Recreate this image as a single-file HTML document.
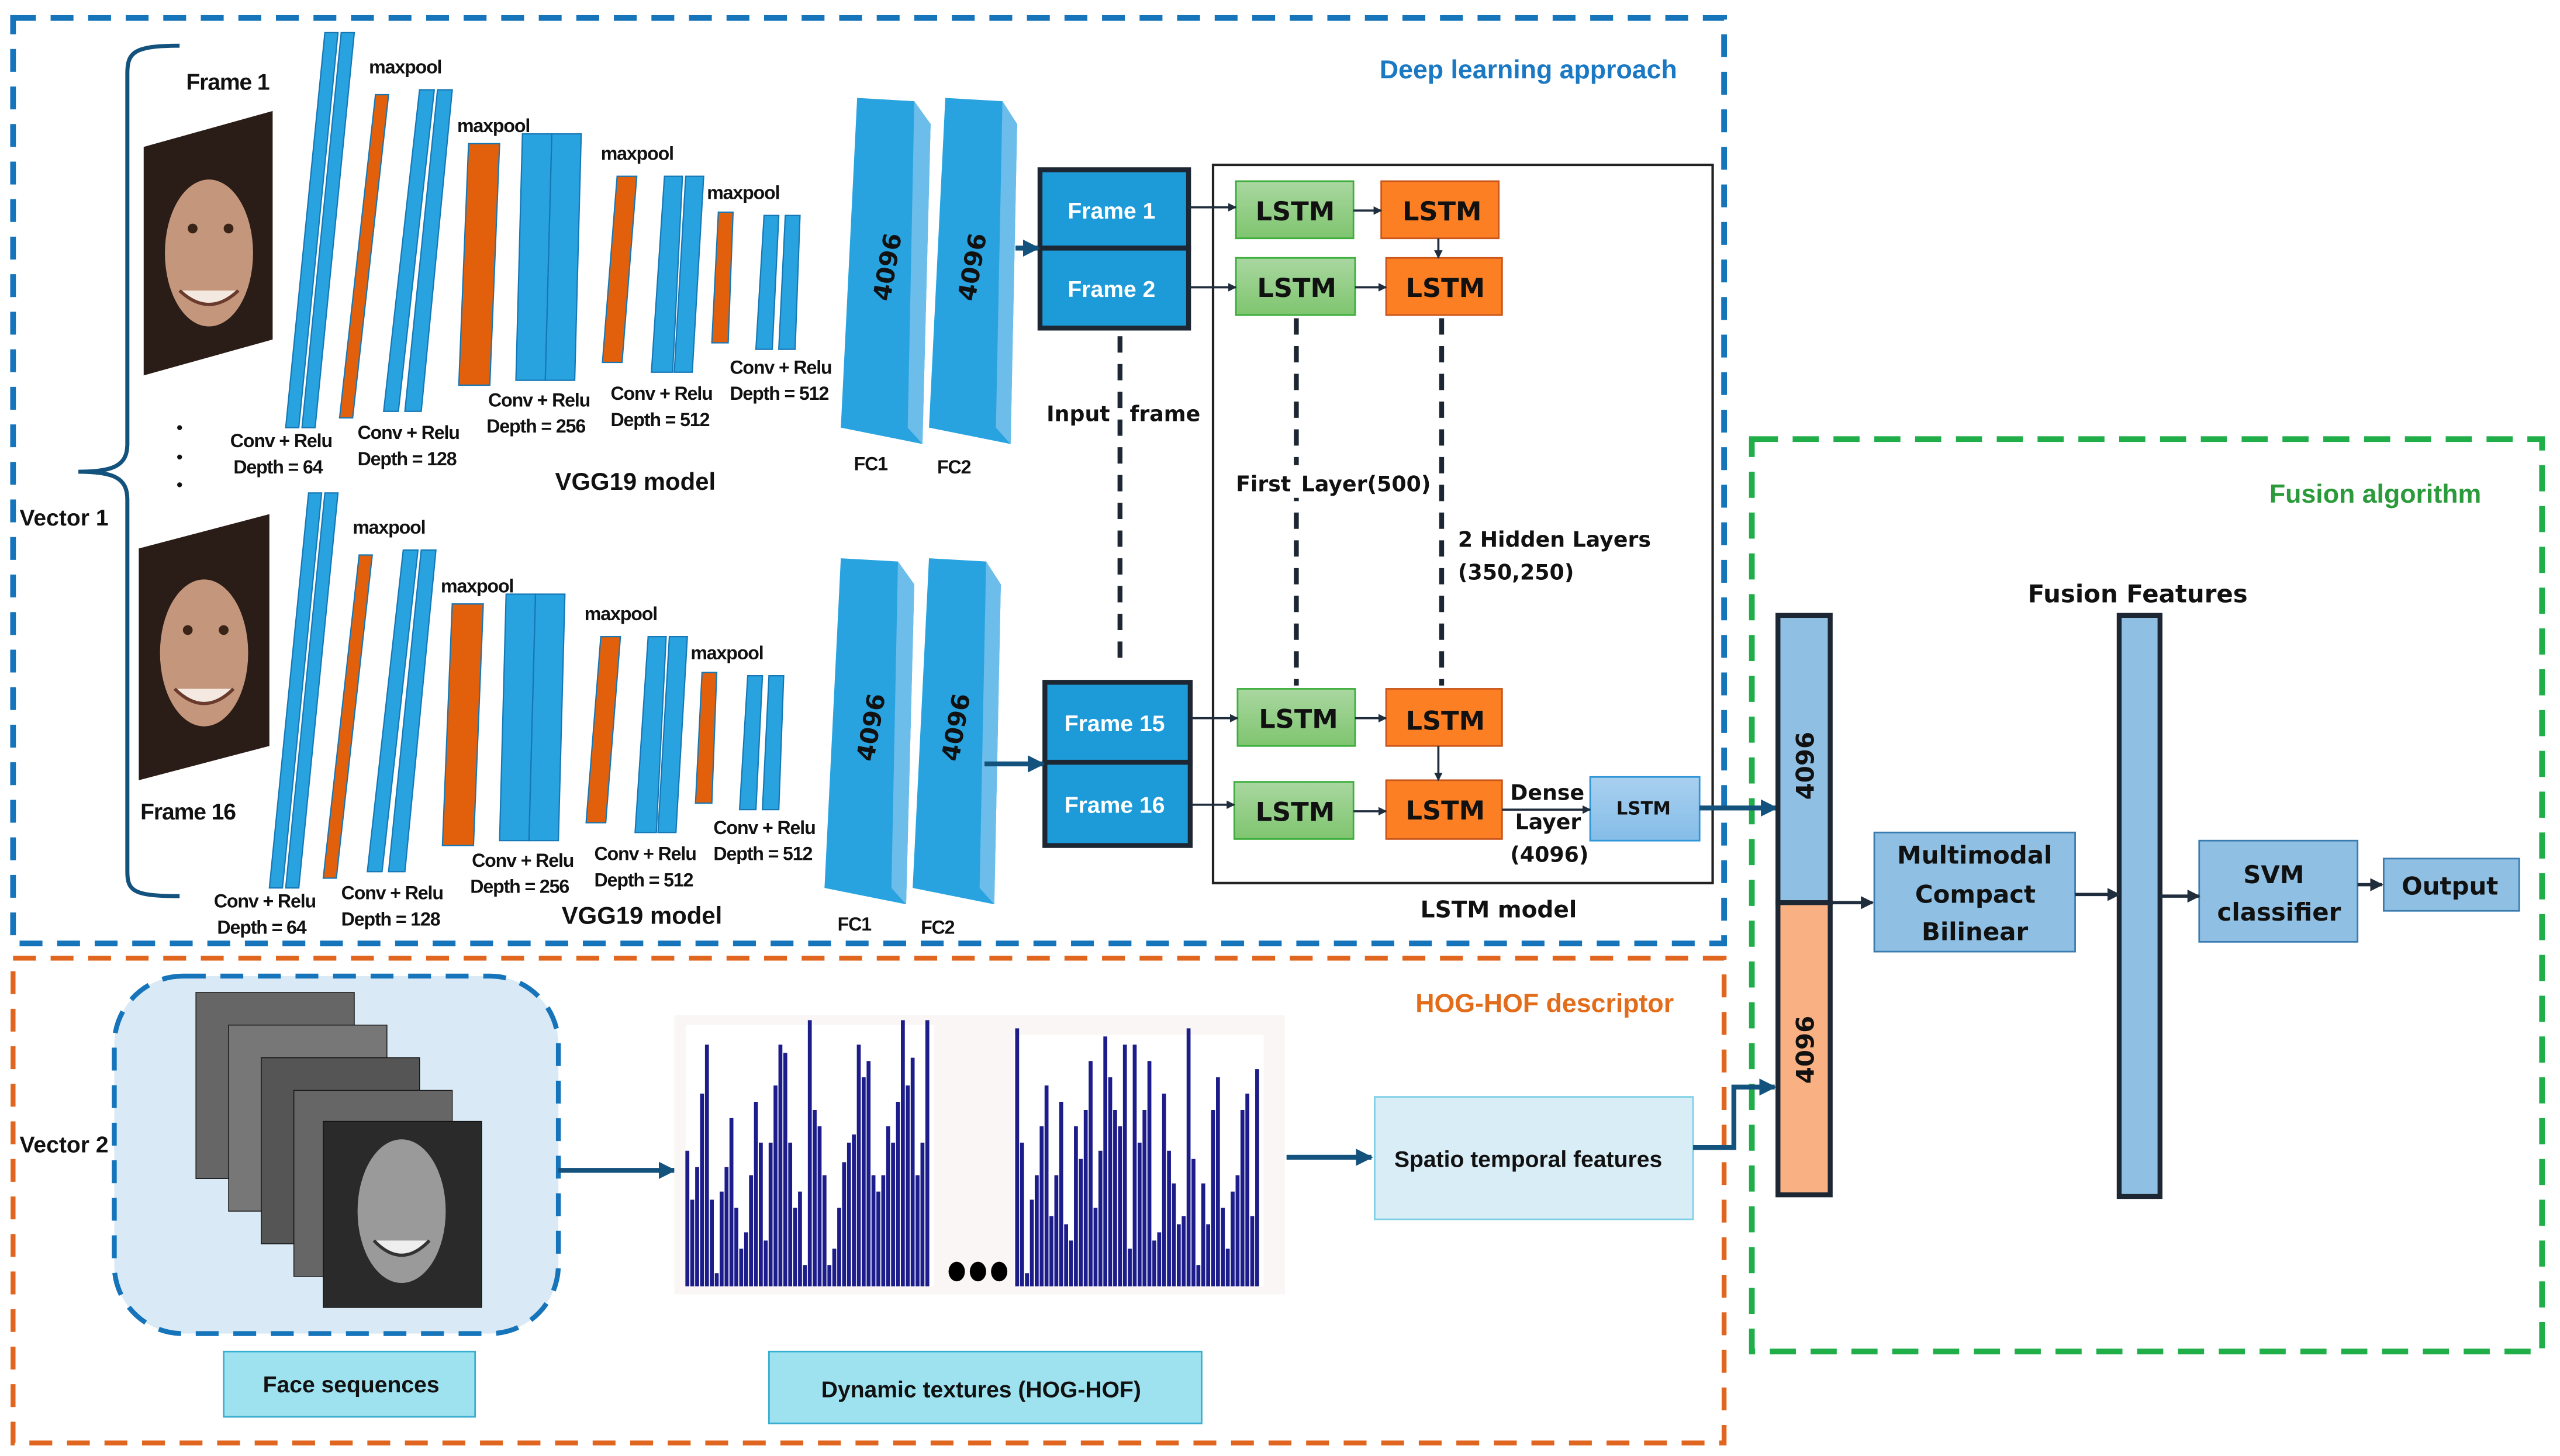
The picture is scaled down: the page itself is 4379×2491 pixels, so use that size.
<!DOCTYPE html>
<html><head><meta charset="utf-8"><style>
html,body{margin:0;padding:0;background:#fff;}
svg{display:block}
.n{font-family:"Liberation Sans Narrow","Liberation Sans",sans-serif;font-weight:bold;font-size:11.5px;letter-spacing:-0.4px;fill:#111}
.v{font-family:"DejaVu Sans","Liberation Sans",sans-serif;font-weight:bold;fill:#111}
</style></head><body>
<svg width="4379" height="2491" viewBox="0 0 1568 892" preserveAspectRatio="none" xmlns="http://www.w3.org/2000/svg">
<defs>
<marker id="a" viewBox="0 0 10 10" refX="9" refY="5" markerWidth="4" markerHeight="4" orient="auto"><path d="M0,0L10,5L0,10z" fill="#1f2d3d"/></marker>
<marker id="b" viewBox="0 0 10 10" refX="9" refY="5" markerWidth="3.5" markerHeight="3.5" orient="auto"><path d="M0,0L10,5L0,10z" fill="#14527e"/></marker>
<linearGradient id="g" x1="0" y1="0" x2="0" y2="1"><stop offset="0" stop-color="#a9d7a0"/><stop offset="1" stop-color="#7fc56f"/></linearGradient>
<linearGradient id="lb" x1="0" y1="0" x2="0" y2="1"><stop offset="0" stop-color="#a9d0ef"/><stop offset="1" stop-color="#84bde8"/></linearGradient>
<g id="vgg">
 <polygon points="199,20 207,20 183,262 175,262" fill="#29a3e0" stroke="#1677b5" stroke-width="0.8"/>
 <polygon points="209,20 217,20 193,262 185,262" fill="#29a3e0" stroke="#1677b5" stroke-width="0.8"/>
 <polygon points="230,58 238,58 216,256 208,256" fill="#e2600c" stroke="#1677b5" stroke-width="0.8"/>
 <polygon points="257,55 266,55 244,252 235,252" fill="#29a3e0" stroke="#1677b5" stroke-width="0.8"/>
 <polygon points="268,55 277,55 258,252 248,252" fill="#29a3e0" stroke="#1677b5" stroke-width="0.8"/>
 <polygon points="287,88 306,88 300,236 281,236" fill="#e2600c" stroke="#1677b5" stroke-width="0.8"/>
 <polygon points="320,82 338,82 334,233 316,233" fill="#29a3e0" stroke="#1677b5" stroke-width="0.8"/>
 <polygon points="338,82 356,82 352,233 334,233" fill="#29a3e0" stroke="#1677b5" stroke-width="0.8"/>
 <polygon points="378,108 390,108 381,222 369,222" fill="#e2600c" stroke="#1677b5" stroke-width="0.8"/>
 <polygon points="407,108 418,108 412,228 399,228" fill="#29a3e0" stroke="#1677b5" stroke-width="0.8"/>
 <polygon points="420,108 431,108 424,228 413,228" fill="#29a3e0" stroke="#1677b5" stroke-width="0.8"/>
 <polygon points="440,130 449,130 446,210 436,210" fill="#e2600c" stroke="#1677b5" stroke-width="0.8"/>
 <polygon points="468,132 477,132 473,214 463,214" fill="#29a3e0" stroke="#1677b5" stroke-width="0.8"/>
 <polygon points="481,132 490,132 487,214 477,214" fill="#29a3e0" stroke="#1677b5" stroke-width="0.8"/>
 <polygon points="525,60 560,62 570,76 565,272 515,262" fill="#29a3e0"/>
 <polygon points="560,62 570,76 565,272 556,262" fill="#6cbdea"/>
 <polygon points="579,60 614,62 623,76 619,272 569,262" fill="#29a3e0"/>
 <polygon points="614,62 623,76 619,272 610,262" fill="#6cbdea"/>
 <text class="v" font-size="15" transform="translate(545,185) rotate(-80)">4096</text>
 <text class="v" font-size="15" transform="translate(597,185) rotate(-80)">4096</text>
 <text class="n" x="226" y="45">maxpool</text>
 <text class="n" x="280" y="81">maxpool</text>
 <text class="n" x="368" y="98">maxpool</text>
 <text class="n" x="433" y="122">maxpool</text>
 <text class="n" x="141" y="274">Conv + Relu</text><text class="n" x="143" y="290">Depth = 64</text>
 <text class="n" x="219" y="269">Conv + Relu</text><text class="n" x="219" y="285">Depth = 128</text>
 <text class="n" x="299" y="249">Conv + Relu</text><text class="n" x="298" y="265">Depth = 256</text>
 <text class="n" x="374" y="245">Conv + Relu</text><text class="n" x="374" y="261">Depth = 512</text>
 <text class="n" x="447" y="229">Conv + Relu</text><text class="n" x="447" y="245">Depth = 512</text>
 <text class="n" x="523" y="288">FC1</text><text class="n" x="574" y="290">FC2</text>
</g>
</defs>

<rect x="8" y="11" width="1048" height="567" fill="none" stroke="#1674bb" stroke-width="3.5" stroke-dasharray="14,9"/>
<rect x="8" y="587" width="1048" height="297" fill="none" stroke="#e0661f" stroke-width="3" stroke-dasharray="14,9"/>
<rect x="1073" y="269" width="484" height="559" fill="none" stroke="#1fae48" stroke-width="3.5" stroke-dasharray="16,9"/>
<text x="845" y="48" font-family="Liberation Sans" font-weight="bold" font-size="16" fill="#1b79c4">Deep learning approach</text>
<text x="867" y="620" font-family="Liberation Sans" font-weight="bold" font-size="16" fill="#e36c1a">HOG-HOF descriptor</text>
<text x="1390" y="308" font-family="Liberation Sans" font-weight="bold" font-size="16" fill="#2a9a3a">Fusion algorithm</text>

<path d="M110,28 C82,28 78,32 78,45 L78,272 C78,285 70,289 48,289 C70,289 78,293 78,306 L78,534 C78,546 82,549 110,549" fill="none" stroke="#14527e" stroke-width="2.5"/>
<text x="12" y="322" font-family="Liberation Sans" font-weight="bold" font-size="14" fill="#111">Vector 1</text>
<text x="12" y="706" font-family="Liberation Sans" font-weight="bold" font-size="14" fill="#111">Vector 2</text>
<text class="n" x="114" y="55" style="font-size:14px">Frame 1</text>
<text class="n" x="86" y="502" style="font-size:14px">Frame 16</text>
<circle cx="110" cy="262" r="1.5" fill="#111"/><circle cx="110" cy="280" r="1.5" fill="#111"/><circle cx="110" cy="297" r="1.5" fill="#111"/>

<g>
 <polygon points="88,90 167,68 167,208 88,230" fill="#2a1c17"/>
 <ellipse cx="128" cy="155" rx="27" ry="45" fill="#c4977c"/>
 <path d="M110,178 Q128,195 146,178" fill="#f3e9e0" stroke="#6a3a2d" stroke-width="2"/>
 <circle cx="118" cy="140" r="3" fill="#3a2418"/><circle cx="140" cy="140" r="3" fill="#3a2418"/>
</g>
<g>
 <polygon points="85,336 165,315 165,457 85,478" fill="#2a1c17"/>
 <ellipse cx="125" cy="400" rx="27" ry="45" fill="#c4977c"/>
 <path d="M107,422 Q125,440 143,422" fill="#f3e9e0" stroke="#6a3a2d" stroke-width="2"/>
 <circle cx="115" cy="386" r="3" fill="#3a2418"/><circle cx="137" cy="386" r="3" fill="#3a2418"/>
</g>

<use href="#vgg"/>
<use href="#vgg" transform="translate(-10,282)"/>
<text x="340" y="300" font-family="Liberation Sans" font-weight="bold" font-size="15" fill="#111">VGG19 model</text>
<text x="344" y="566" font-family="Liberation Sans" font-weight="bold" font-size="15" fill="#111">VGG19 model</text>

<g font-family="Liberation Sans" font-weight="bold" font-size="14" fill="#fff">
<rect x="637" y="104" width="91" height="48" fill="#1d9ad8" stroke="#1d2733" stroke-width="3"/>
<rect x="637" y="152" width="91" height="49" fill="#1d9ad8" stroke="#1d2733" stroke-width="3"/>
<rect x="640" y="418" width="89" height="49" fill="#1d9ad8" stroke="#1d2733" stroke-width="3"/>
<rect x="640" y="467" width="89" height="51" fill="#1d9ad8" stroke="#1d2733" stroke-width="3"/>
<text x="654" y="134">Frame 1</text><text x="654" y="182">Frame 2</text>
<text x="652" y="448">Frame 15</text><text x="652" y="498">Frame 16</text>
</g>
<line x1="622" y1="152" x2="636" y2="152" stroke="#14527e" stroke-width="3" marker-end="url(#b)"/>
<line x1="603" y1="468" x2="639" y2="468" stroke="#14527e" stroke-width="3" marker-end="url(#b)"/>
<line x1="686" y1="206" x2="686" y2="410" stroke="#1d2733" stroke-width="3" stroke-dasharray="10,7"/>
<text class="v" x="641" y="258" font-size="13">Input</text><text class="v" x="692" y="258" font-size="13">frame</text>

<rect x="743" y="101" width="306" height="440" fill="none" stroke="#222" stroke-width="1.5"/>
<text class="v" x="870" y="562" font-size="14">LSTM model</text>
<g stroke-width="1">
<rect x="757" y="111" width="72" height="35" fill="url(#g)" stroke="#3cae3c"/>
<rect x="757" y="158" width="73" height="35" fill="url(#g)" stroke="#3cae3c"/>
<rect x="758" y="422" width="72" height="35" fill="url(#g)" stroke="#3cae3c"/>
<rect x="756" y="479" width="73" height="35" fill="url(#g)" stroke="#3cae3c"/>
<rect x="846" y="111" width="72" height="35" fill="#fc7f24" stroke="#c9561a"/>
<rect x="849" y="158" width="71" height="35" fill="#fc7f24" stroke="#c9561a"/>
<rect x="849" y="422" width="71" height="35" fill="#fc7f24" stroke="#c9561a"/>
<rect x="849" y="478" width="71" height="36" fill="#fc7f24" stroke="#c9561a"/>
<rect x="974" y="476" width="67" height="39" fill="url(#lb)" stroke="#2e95d8"/>
</g>
<g class="v" font-size="16">
<text x="769" y="135">LSTM</text><text x="859" y="135">LSTM</text>
<text x="770" y="182">LSTM</text><text x="861" y="182">LSTM</text>
<text x="771" y="446">LSTM</text><text x="861" y="447">LSTM</text>
<text x="769" y="503">LSTM</text><text x="861" y="502">LSTM</text>
</g>
<text class="v" x="990" y="499" font-size="11">LSTM</text>
<g stroke="#1f2d3d" stroke-width="1.3" marker-end="url(#a)">
<line x1="728" y1="127" x2="757" y2="127"/><line x1="728" y1="176" x2="757" y2="176"/>
<line x1="730" y1="440" x2="758" y2="440"/><line x1="730" y1="493" x2="756" y2="493"/>
<line x1="829" y1="129" x2="846" y2="129"/><line x1="830" y1="176" x2="849" y2="176"/>
<line x1="830" y1="440" x2="849" y2="440"/><line x1="829" y1="497" x2="849" y2="497"/>
<line x1="881" y1="146" x2="881" y2="158"/><line x1="881" y1="457" x2="881" y2="478"/>
<line x1="920" y1="496" x2="974" y2="496"/>
</g>
<line x1="794" y1="195" x2="794" y2="420" stroke="#1d2733" stroke-width="3" stroke-dasharray="10,7"/>
<line x1="883" y1="195" x2="883" y2="420" stroke="#1d2733" stroke-width="3" stroke-dasharray="10,7"/>
<rect x="770" y="285" width="55" height="20" fill="#fff"/>
<text class="v" x="757" y="301" font-size="13">First</text><text class="v" x="797" y="301" font-size="13">Layer(500)</text>
<text class="v" x="893" y="335" font-size="13">2 Hidden Layers</text><text class="v" x="893" y="355" font-size="13">(350,250)</text>
<text class="v" x="925" y="490" font-size="13">Dense</text><text class="v" x="928" y="508" font-size="13">Layer</text><text class="v" x="925" y="528" font-size="13">(4096)</text>
<line x1="1041" y1="495" x2="1088" y2="495" stroke="#14527e" stroke-width="3" marker-end="url(#b)"/>

<rect x="1089" y="377" width="32" height="176" fill="#8fc0e3" stroke="#1d2733" stroke-width="3"/>
<rect x="1089" y="553" width="32" height="179" fill="#f9b183" stroke="#1d2733" stroke-width="3"/>
<text class="v" font-size="15" transform="translate(1111,490) rotate(-90)">4096</text>
<text class="v" font-size="15" transform="translate(1111,664) rotate(-90)">4096</text>
<rect x="1148" y="510" width="123" height="73" fill="#8fc0e3" stroke="#3a7cb0" stroke-width="1"/>
<text class="v" font-size="15" x="1162" y="529">Multimodal</text>
<text class="v" font-size="15" x="1173" y="553">Compact</text>
<text class="v" font-size="15" x="1177" y="576">Bilinear</text>
<rect x="1298" y="377" width="25" height="356" fill="#8fc0e3" stroke="#1d2733" stroke-width="3"/>
<text class="v" font-size="15" x="1242" y="369">Fusion Features</text>
<rect x="1347" y="515" width="97" height="62" fill="#8fc0e3" stroke="#3a7cb0" stroke-width="1"/>
<text class="v" font-size="15" x="1374" y="541">SVM</text><text class="v" font-size="15" x="1358" y="564">classifier</text>
<rect x="1460" y="526" width="83" height="32" fill="#8fc0e3" stroke="#3a7cb0" stroke-width="1"/>
<text class="v" font-size="15" x="1471" y="548">Output</text>
<g stroke="#1f2d3d" stroke-width="2" marker-end="url(#a)">
<line x1="1121" y1="553" x2="1147" y2="553"/><line x1="1271" y1="548" x2="1298" y2="548"/>
<line x1="1323" y1="549" x2="1347" y2="549"/><line x1="1444" y1="542" x2="1459" y2="542"/>
</g>

<rect x="70" y="598" width="272" height="219" rx="42" fill="#d9eaf6" stroke="#1674bb" stroke-width="3" stroke-dasharray="14,9"/>
<g stroke="#111" stroke-width="0.5">
<rect x="120" y="608" width="97" height="114" fill="#666"/>
<rect x="140" y="628" width="97" height="114" fill="#777"/>
<rect x="160" y="648" width="97" height="114" fill="#555"/>
<rect x="180" y="668" width="97" height="114" fill="#666"/>
<rect x="198" y="687" width="97" height="114" fill="#2a2a2a"/>
</g>
<ellipse cx="246" cy="742" rx="27" ry="44" fill="#9a9a9a"/>
<path d="M229,760 Q246,778 263,760" fill="#eee" stroke="#333" stroke-width="2"/>
<rect x="137" y="828" width="154" height="40" fill="#9ee2f0" stroke="#3aaed0" stroke-width="1"/>
<text font-family="Liberation Sans" font-weight="bold" font-size="14" x="161" y="853" fill="#111">Face sequences</text>
<line x1="342" y1="717" x2="413" y2="717" stroke="#14527e" stroke-width="3" marker-end="url(#b)"/>
<rect x="413" y="622" width="374" height="171" fill="#fbf6f6"/>
<rect x="420" y="628" width="152" height="160" fill="#fff"/>
<rect x="621" y="634" width="153" height="154" fill="#fff"/>
<path stroke="#1c1c8a" stroke-width="2.4" fill="none" d="M421,788V705M424,788V735M427,788V715M430,788V670M433,788V640M436,788V735M439,788V780M442,788V730M445,788V715M448,788V685M451,788V740M454,788V765M457,788V755M460,788V720M463,788V675M466,788V700M469,788V760M472,788V700M475,788V665M478,788V640M481,788V645M484,788V700M487,788V740M490,788V730M493,788V775M496,788V625M499,788V680M502,788V690M505,788V720M508,788V775M511,788V765M514,788V740M517,788V712M520,788V700M523,788V695M526,788V640M529,788V660M532,788V650M535,788V720M538,788V730M541,788V720M544,788V690M547,788V700M550,788V675M553,788V625M556,788V665M559,788V648M562,788V720M565,788V700M568,788V625"/>
<path stroke="#1c1c8a" stroke-width="2.4" fill="none" d="M623,788V630M626,788V700M629,788V780M632,788V735M635,788V720M638,788V690M641,788V665M644,788V745M647,788V720M650,788V675M653,788V750M656,788V760M659,788V690M662,788V710M665,788V680M668,788V650M671,788V740M674,788V705M677,788V635M680,788V660M683,788V680M686,788V690M689,788V640M692,788V765M695,788V640M698,788V700M701,788V680M704,788V650M707,788V760M710,788V755M713,788V670M716,788V705M719,788V725M722,788V750M725,788V745M728,788V630M731,788V710M734,788V775M737,788V725M740,788V750M743,788V680M746,788V660M749,788V740M752,788V765M755,788V730M758,788V720M761,788V680M764,788V670M767,788V745M770,788V655"/>
<ellipse cx="586" cy="779" rx="5" ry="6" fill="#000"/><ellipse cx="599" cy="779" rx="5" ry="6" fill="#000"/><ellipse cx="612" cy="779" rx="5" ry="6" fill="#000"/>
<rect x="471" y="828" width="265" height="44" fill="#9ee2f0" stroke="#3aaed0" stroke-width="1"/>
<text font-family="Liberation Sans" font-weight="bold" font-size="14" x="503" y="856" fill="#111">Dynamic textures (HOG-HOF)</text>
<line x1="788" y1="709" x2="840" y2="709" stroke="#14527e" stroke-width="3" marker-end="url(#b)"/>
<rect x="842" y="672" width="195" height="75" fill="#d9edf7" stroke="#7fd0e6" stroke-width="1"/>
<text font-family="Liberation Sans" font-weight="bold" font-size="14" x="854" y="715" fill="#111">Spatio temporal features</text>
<polyline points="1037,703 1062,703 1062,666 1087,666" fill="none" stroke="#14527e" stroke-width="3" marker-end="url(#b)"/>
</svg>
</body></html>
